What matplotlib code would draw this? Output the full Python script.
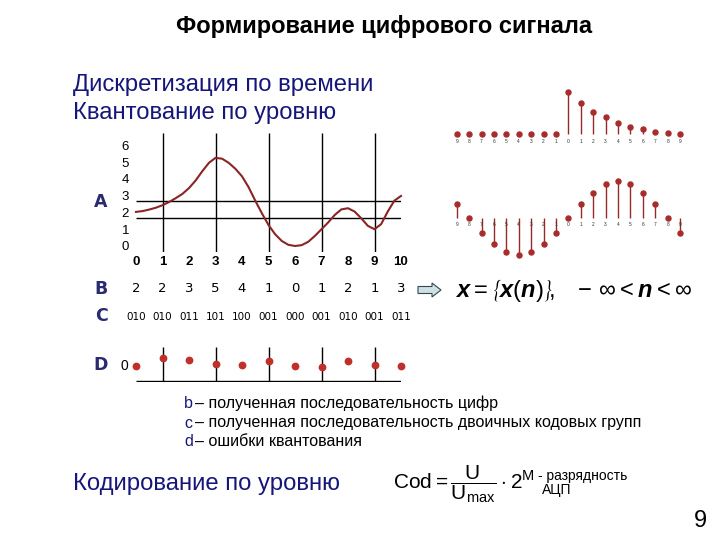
import numpy as np
import matplotlib
matplotlib.use("Agg")
import matplotlib.pyplot as plt
from matplotlib.patches import FancyArrow
from matplotlib.transforms import blended_transform_factory

plt.rcParams['font.family'] = ['Liberation Sans', 'DejaVu Sans']
plt.rcParams['mathtext.fontset'] = 'custom'
plt.rcParams['mathtext.rm'] = 'Liberation Sans'
plt.rcParams['mathtext.it'] = 'Liberation Sans:italic:bold'
plt.rcParams['mathtext.bf'] = 'Liberation Sans:bold'

# аналоговый сигнал (отсчёты кривой через 0.25)
signal_t = np.arange(41) * 0.25
signal_a = [2.03, 2.08, 2.17, 2.28, 2.43, 2.62, 2.85, 3.10, 3.45, 3.90,
            4.45, 4.95, 5.25, 5.20, 4.95, 4.60, 4.15, 3.50, 2.70, 1.95,
            1.25, 0.70, 0.30, 0.07, 0.00, 0.05, 0.25, 0.60, 1.00, 1.40,
            1.85, 2.18, 2.25, 2.05, 1.65, 1.20, 1.00, 1.30, 2.05, 2.70, 2.98]
levels = [1.65, 2.68]
grid_x = [1, 3, 5, 7, 9]

samples = list(range(11))
b_digits = ['2', '2', '3', '5', '4', '1', '0', '1', '2', '1', '3']
c_codes = ['010', '010', '011', '101', '100', '001', '000', '001', '010', '001', '011']
d_err = [0.0, 0.8, 0.57, 0.24, 0.1, 0.5, 0.0, -0.13, 0.5, 0.14, 0.04]

# дискретные последовательности справа
stem_n = list(range(-9, 10))
stem_labels = [str(abs(n)) for n in stem_n]
exp_vals = [0, 0, 0, 0, 0, 0, 0, 0, 0,
            1.0, 0.74, 0.53, 0.40, 0.26, 0.18, 0.12, 0.06, 0.02, 0.0]
sin_vals = [0.37, 0.0, -0.4, -0.7, -0.92, -1.0, -0.92, -0.7, -0.4, 0.0,
            0.37, 0.68, 0.92, 1.0, 0.92, 0.68, 0.37, 0.0, -0.4]

navy = '#16167a'
letter_col = '#2a2a70'
curve_col = '#8b2525'
stem_col = '#962a2a'
dot_col = '#c0302a'

W, H = 720, 540
fig = plt.figure(figsize=(7.2, 5.4), dpi=100)
ax0 = fig.add_axes([0, 0, 1, 1])
ax0.set_xlim(0, W)
ax0.set_ylim(H, 0)
ax0.axis('off')


def px_axes(x0, y0, x1, y1):
    ax = fig.add_axes([x0 / W, 1 - y1 / H, (x1 - x0) / W, (y1 - y0) / H])
    ax.patch.set_alpha(0)
    for s in ax.spines.values():
        s.set_visible(False)
    return ax


# заголовки
ax0.text(384, 27, 'Формирование цифрового сигнала', fontsize=17,
         fontweight='bold', ha='center', va='center')
ax0.text(73, 85, 'Дискретизация по времени', fontsize=17.2, color=navy, va='center')
ax0.text(73, 113, 'Квантование по уровню', fontsize=17.2, color=navy, va='center')
ax0.text(73, 484, 'Кодирование по уровню', fontsize=17.2, color=navy, va='center')

# график A
axA = px_axes(136, 133, 401, 251.7)
axA.set_xlim(0, 10)
axA.set_ylim(-0.34, 6.73)
axA.vlines(grid_x, -0.34, 6.73, color='black', lw=1)
axA.hlines(levels, 0, 10, color='black', lw=1)
axA.plot(signal_t, signal_a, color=curve_col, lw=1.5, clip_on=False)
axA.set_xticks(samples)
axA.set_xticklabels([str(s) for s in samples], fontsize=9.5, fontweight='bold')
axA.set_yticks(range(7))
axA.set_yticklabels([str(v) for v in range(7)], fontsize=9.5)
axA.tick_params(length=0, pad=3)
axA.tick_params(axis='y', pad=5)

# строки B и C
tr = blended_transform_factory(axA.transData, ax0.transData)
for s, b, c in zip(samples, b_digits, c_codes):
    ax0.text(s, 289, b, transform=tr, fontsize=9.5, ha='center', va='center',
             family='DejaVu Sans')
    ax0.text(s, 317, c, transform=tr, fontsize=7.5, ha='center', va='center',
             family='DejaVu Sans')

for lab, y in zip(['A', 'B', 'C', 'D'], [202, 289, 316, 365]):
    ax0.text(101, y, lab, fontsize=12.5, color=letter_col, ha='center', va='center',
             family='DejaVu Sans', fontweight='bold')

# строка D - ошибки квантования
axD = px_axes(136, 345, 401, 382)
axD.set_xlim(0, 10)
axD.set_ylim(-1.6, 2.1)
axD.hlines(-1.5, 0, 10, color='black', lw=1)
axD.vlines(grid_x, -1.5, 1.9, color='black', lw=1)
axD.plot(samples, d_err, 'o', color=dot_col, ms=4.6, clip_on=False)
axD.set_xticks([])
axD.set_yticks([])
axD.text(-0.42, 0, '0', fontsize=10, ha='center', va='center', clip_on=False)

# стем-графики справа
for box, vals, ylim in [((450, 88, 687, 145), exp_vals, (-0.255, 1.10)),
                        ((450, 175, 687, 260), sin_vals, (-1.143, 1.154))]:
    ax = px_axes(*box)
    ax.set_xlim(-9.54, 9.56)
    ax.set_ylim(*ylim)
    ax.vlines(stem_n, 0, vals, color=stem_col, lw=1)
    ax.plot(stem_n, vals, 'o', color='#a82c2c', ms=3.6, clip_on=False)
    for n, lab in zip(stem_n, stem_labels):
        ax.text(n, -0.176, lab, fontsize=3.5, color='#333333',
                ha='center', va='center')
    ax.set_xticks([])
    ax.set_yticks([])

# стрелка и формула последовательности
ax0.add_patch(FancyArrow(418, 290, 23, 0, width=7, head_width=14, head_length=9,
                         length_includes_head=True, fc='#cde0e4', ec='#35474d', lw=0.8))
ax0.text(455, 290, r'$x = \left\{x(n)\right\}\!,\ \ -\,\infty < n < \infty$',
         fontsize=17, va='center')

# пояснения
notes = [('b', '– полученная последовательность цифр'),
         ('c', '– полученная последовательность двоичных кодовых групп'),
         ('d', '– ошибки квантования')]
for (l, t), y in zip(notes, [403, 423, 442]):
    ax0.text(184, y, l, fontsize=11.5, color=navy, va='center')
    ax0.text(195, y, t, fontsize=11.5, va='center')

# формула кода
ax0.text(393, 484, r'$\mathrm{Cod} = \dfrac{\mathrm{U}}{\mathrm{U}_{\mathrm{max}}} \cdot 2^{\mathrm{M}}$',
         fontsize=15, va='center')
ax0.text(538, 476, '- разрядность', fontsize=10, va='center')
ax0.text(542, 490, 'АЦП', fontsize=10, va='center')

ax0.text(700, 521, '9', fontsize=17, ha='center', va='center')

fig.savefig('out.png', dpi=100)
